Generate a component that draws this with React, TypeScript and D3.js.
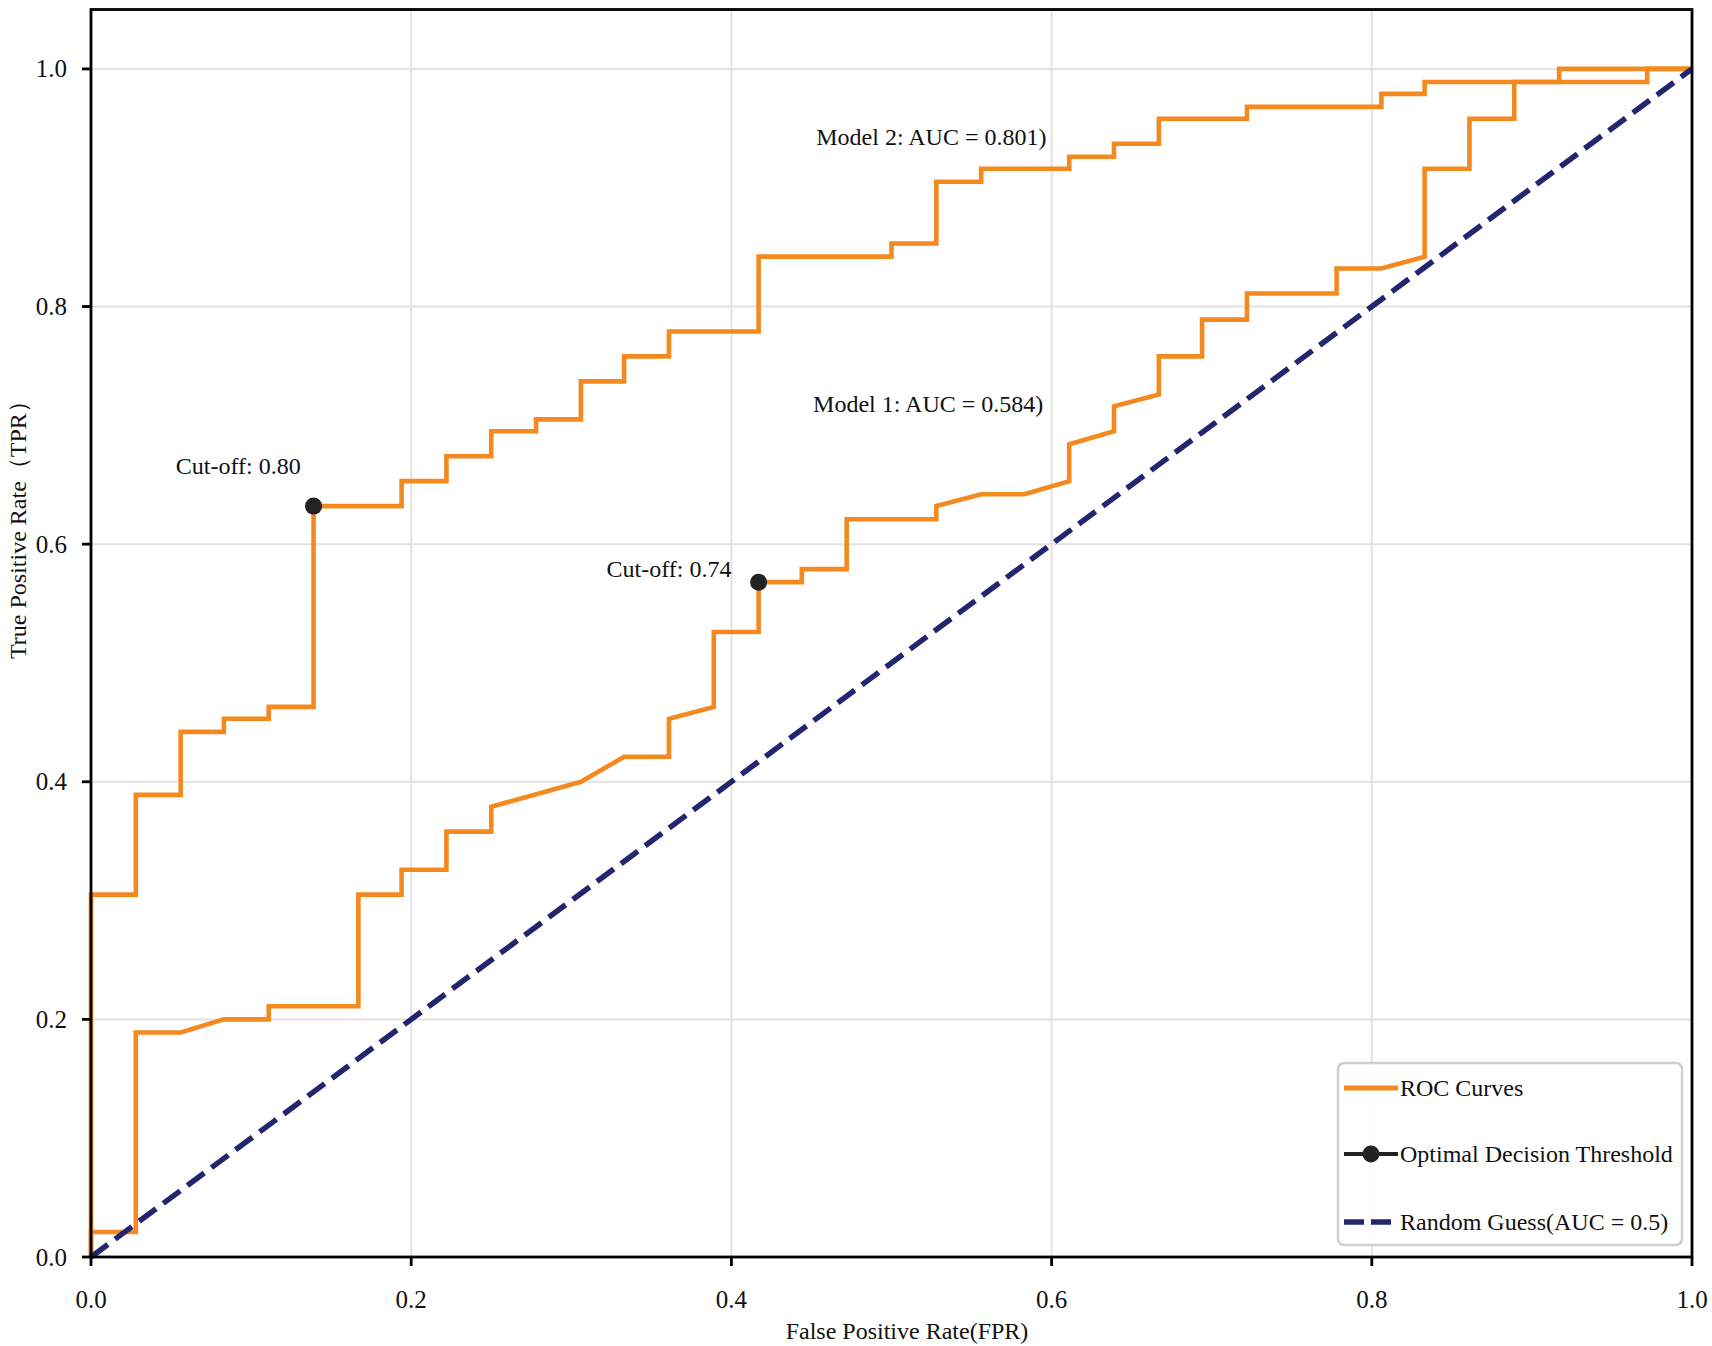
import React from 'react';
import * as d3 from 'd3';

// ROC curve points as [FPR, TPR]
const model1Points: [number, number][] = [
  [0, 0], [0, 0.021], [0.028, 0.021], [0.028, 0.189], [0.056, 0.189], [0.083, 0.2],
  [0.111, 0.2], [0.111, 0.211], [0.167, 0.211], [0.167, 0.305], [0.194, 0.305],
  [0.194, 0.326], [0.222, 0.326], [0.222, 0.358], [0.25, 0.358], [0.25, 0.379],
  [0.306, 0.4], [0.333, 0.421], [0.361, 0.421], [0.361, 0.453], [0.389, 0.463],
  [0.389, 0.526], [0.417, 0.526], [0.417, 0.568], [0.444, 0.568], [0.444, 0.579],
  [0.472, 0.579], [0.472, 0.621], [0.528, 0.621], [0.528, 0.632], [0.556, 0.642],
  [0.583, 0.642], [0.611, 0.653], [0.611, 0.684], [0.639, 0.695], [0.639, 0.716],
  [0.667, 0.726], [0.667, 0.758], [0.694, 0.758], [0.694, 0.789], [0.722, 0.789],
  [0.722, 0.811], [0.778, 0.811], [0.778, 0.832], [0.806, 0.832], [0.833, 0.842],
  [0.833, 0.916], [0.861, 0.916], [0.861, 0.958], [0.889, 0.958], [0.889, 0.989],
  [0.972, 0.989], [0.972, 1.0], [1.0, 1.0]
];

const model2Points: [number, number][] = [
  [0, 0], [0, 0.305], [0.028, 0.305], [0.028, 0.389], [0.056, 0.389], [0.056, 0.442],
  [0.083, 0.442], [0.083, 0.453], [0.111, 0.453], [0.111, 0.463], [0.139, 0.463],
  [0.139, 0.632], [0.194, 0.632], [0.194, 0.653], [0.222, 0.653], [0.222, 0.674],
  [0.25, 0.674], [0.25, 0.695], [0.278, 0.695], [0.278, 0.705], [0.306, 0.705],
  [0.306, 0.737], [0.333, 0.737], [0.333, 0.758], [0.361, 0.758], [0.361, 0.779],
  [0.417, 0.779], [0.417, 0.842], [0.5, 0.842], [0.5, 0.853], [0.528, 0.853],
  [0.528, 0.905], [0.556, 0.905], [0.556, 0.916], [0.611, 0.916], [0.611, 0.926],
  [0.639, 0.926], [0.639, 0.937], [0.667, 0.937], [0.667, 0.958], [0.722, 0.958],
  [0.722, 0.968], [0.806, 0.968], [0.806, 0.979], [0.833, 0.979], [0.833, 0.989],
  [0.917, 0.989], [0.917, 1.0], [1.0, 1.0]
];

const diagonal: [number, number][] = [[0, 0], [1, 1]];

// optimal thresholds
const cutoffPoints: [number, number][] = [[0.139, 0.632], [0.417, 0.568]];
const cutoffLabels = ['Cut-off: 0.80', 'Cut-off: 0.74'];
const cutoffLabelPos: [number, number][] = [[0.053, 0.659], [0.322, 0.572]];

const aucLabels = ['Model 2: AUC = 0.801)', 'Model 1: AUC = 0.584)'];
const aucLabelPos: [number, number][] = [[0.453, 0.936], [0.451, 0.711]];

const ticks = [0, 0.2, 0.4, 0.6, 0.8, 1.0];
const legendLabels = ['ROC Curves', 'Optimal Decision Threshold', 'Random Guess(AUC = 0.5)'];

const W = 1712;
const H = 1346;
const ORANGE = '#f48a1f';
const NAVY = '#23266e';
const FONT = '"Liberation Serif", "Times New Roman", serif';

const x = d3.scaleLinear().domain([0, 1]).range([91, 1692]);
const y = d3.scaleLinear().domain([0, 1.05]).range([1257, 9.5]);

const line = d3.line<[number, number]>()
  .x(d => x(d[0]))
  .y(d => y(d[1]));

const App: React.FC = () => {
  const fmt = d3.format('.1f');
  const lx = 1344;
  const ly = [1088, 1154, 1222];
  return (
    <div>
      <style>{'body{margin:0}'}</style>
      <svg width={W} height={H} style={{ display: 'block', background: '#fff' }} fontFamily={FONT}>
        {/* grid */}
        {ticks.slice(1, 5).map(t => (
          <line key={'gx' + t} x1={x(t)} x2={x(t)} y1={y(1.05)} y2={y(0)} stroke="#e2e2e2" strokeWidth={2} />
        ))}
        {ticks.slice(1).map(t => (
          <line key={'gy' + t} x1={x(0)} x2={x(1)} y1={y(t)} y2={y(t)} stroke="#e2e2e2" strokeWidth={2} />
        ))}

        {/* curves */}
        <path d={line(model1Points) || ''} fill="none" stroke={ORANGE} strokeWidth={4.6} strokeLinejoin="miter" />
        <path d={line(model2Points) || ''} fill="none" stroke={ORANGE} strokeWidth={4.6} strokeLinejoin="miter" />
        <path d={line(diagonal) || ''} fill="none" stroke={NAVY} strokeWidth={5.5} strokeDasharray="21,9" />

        {cutoffPoints.map((p, i) => (
          <circle key={'c' + i} cx={x(p[0])} cy={y(p[1])} r={8.5} fill="#222" />
        ))}
        {cutoffLabels.map((t, i) => (
          <text key={'cl' + i} x={x(cutoffLabelPos[i][0])} y={y(cutoffLabelPos[i][1])} fontSize={24} fill="#111">{t}</text>
        ))}
        {aucLabels.map((t, i) => (
          <text key={'al' + i} x={x(aucLabelPos[i][0])} y={y(aucLabelPos[i][1])} fontSize={24} fill="#111">{t}</text>
        ))}

        {/* frame */}
        <rect x={x(0)} y={y(1.05)} width={x(1) - x(0)} height={y(0) - y(1.05)} fill="none" stroke="#000" strokeWidth={2.8} />

        {/* x axis */}
        {ticks.map(t => (
          <g key={'xt' + t}>
            <line x1={x(t)} x2={x(t)} y1={y(0)} y2={y(0) + 9} stroke="#000" strokeWidth={2.8} />
            <text x={x(t)} y={1308} textAnchor="middle" fontSize={25} fill="#111">{fmt(t)}</text>
          </g>
        ))}
        {/* y axis */}
        {ticks.map(t => (
          <g key={'yt' + t}>
            <line x1={x(0) - 9} x2={x(0)} y1={y(t)} y2={y(t)} stroke="#000" strokeWidth={2.8} />
            <text x={67} y={y(t)} dy="0.34em" textAnchor="end" fontSize={25} fill="#111">{fmt(t)}</text>
          </g>
        ))}

        <text x={907} y={1339} textAnchor="middle" fontSize={24} fill="#111">False Positive Rate(FPR)</text>
        <text transform="translate(26,659) rotate(-90)" fontSize={24} fill="#111">True Positive Rate（TPR）</text>

        {/* legend */}
        <rect x={1338} y={1063} width={344} height={182} rx={6} fill="#fff" fillOpacity={0.85} stroke="#cfcfcf" strokeWidth={2.5} />
        <line x1={lx} x2={lx + 54} y1={ly[0]} y2={ly[0]} stroke={ORANGE} strokeWidth={5} />
        <line x1={lx} x2={lx + 54} y1={ly[1]} y2={ly[1]} stroke="#222" strokeWidth={4} />
        <circle cx={lx + 27} cy={ly[1]} r={8.5} fill="#222" />
        <line x1={lx} x2={lx + 54} y1={ly[2]} y2={ly[2]} stroke={NAVY} strokeWidth={5.5} strokeDasharray="20,7" />
        {legendLabels.map((t, i) => (
          <text key={'lg' + i} x={lx + 56} y={ly[i]} dy="0.34em" fontSize={24} fill="#111">{t}</text>
        ))}
      </svg>
    </div>
  );
};

export default App;
